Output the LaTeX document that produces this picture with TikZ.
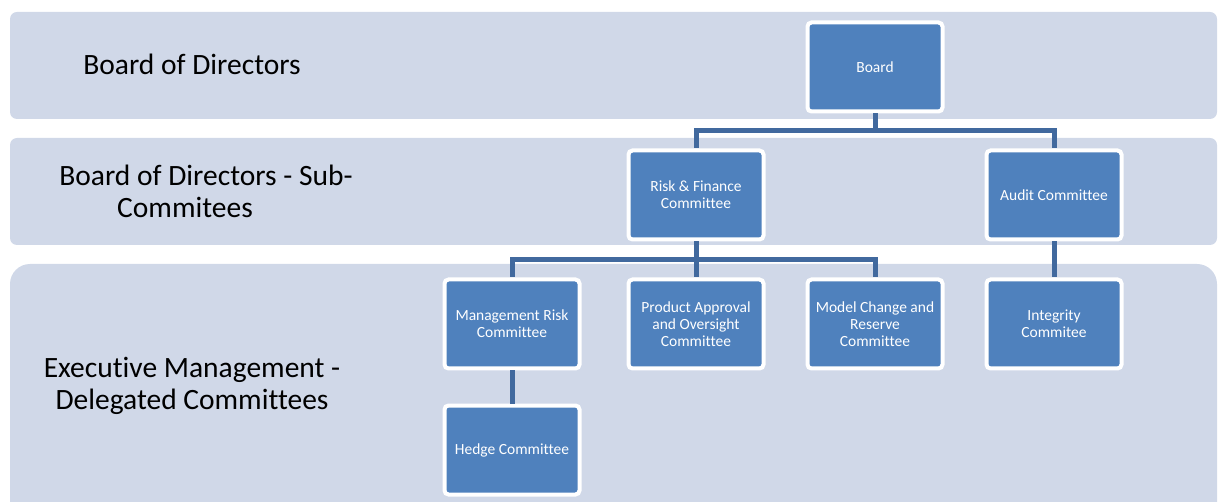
\documentclass[tikz,border=0pt]{standalone}
\usepackage{fontspec}
\setmainfont{Carlito}[Ligatures={NoCommon}]
\definecolor{bandfill}{HTML}{D0D8E8}
\definecolor{boxfill}{HTML}{4F81BD}
\definecolor{linkcol}{HTML}{41699E}
\begin{document}
\begin{tikzpicture}[x=1pt, y=-1pt,
    band/.style={fill=bandfill},
    tier/.style={align=center, font=\fontsize{29.5}{32}\selectfont},
    unit/.style={draw=white, line width=4pt, fill=boxfill, rounded corners=4pt,
      minimum width=135pt, minimum height=89pt, align=center, text=white,
      font=\fontsize{15.5}{17}\selectfont},
    link/.style={draw=linkcol, line width=5pt}]
		\useasboundingbox (0,0) rectangle (1218,502);
		\clip (0,0) rectangle (1218,502);
		
		% horizontal bands
		\fill[band, rounded corners=7pt] (10,12) rectangle (1217,119);
		\fill[band, rounded corners=7pt] (10,138) rectangle (1217,245);
		\fill[band, rounded corners=20pt] (10,264) rectangle (1217,530);
		
		\node[tier] (lvlA) at (192,64) {Board of Directors};
		\node[tier] (lvlB) at (206,191) {Board of Directors - Sub-\\Commitees\hspace*{42pt}};
		\node[tier] (lvlC) at (192,386) {Executive Management -\\Delegated Committees};
		
		% committees
		\node[unit] (board) at (875,67) {Board};
		\node[unit] (risk) at (696,195) {Risk \& Finance\\Committee};
		\node[unit] (audit) at (1054,195) {Audit Committee};
		\node[unit] (mrc) at (512,324) {Management Risk\\Committee};
		\node[unit] (pao) at (696,324) {Product Approval\\and Oversight\\Committee};
		\node[unit] (mcr) at (875,324) {Model Change and\\Reserve\\Committee};
		\node[unit] (integ) at (1054,324) {Integrity\\Commitee};
		\node[unit] (hedge) at (512,450) {Hedge Committee};
		
		\draw[link] (board.south) -- ++(0,17) -| (risk.north);
		\draw[link] (board.south) -- ++(0,17) -| (audit.north);
		\draw[link] (risk.south) -- ++(0,18) -| (mrc.north);
		\draw[link] (risk.south) -- (pao.north);
		\draw[link] (risk.south) -- ++(0,18) -| (mcr.north);
		\draw[link] (audit.south) -- (integ.north);
		\draw[link] (mrc.south) -- (hedge.north);
\end{tikzpicture}
\end{document}
